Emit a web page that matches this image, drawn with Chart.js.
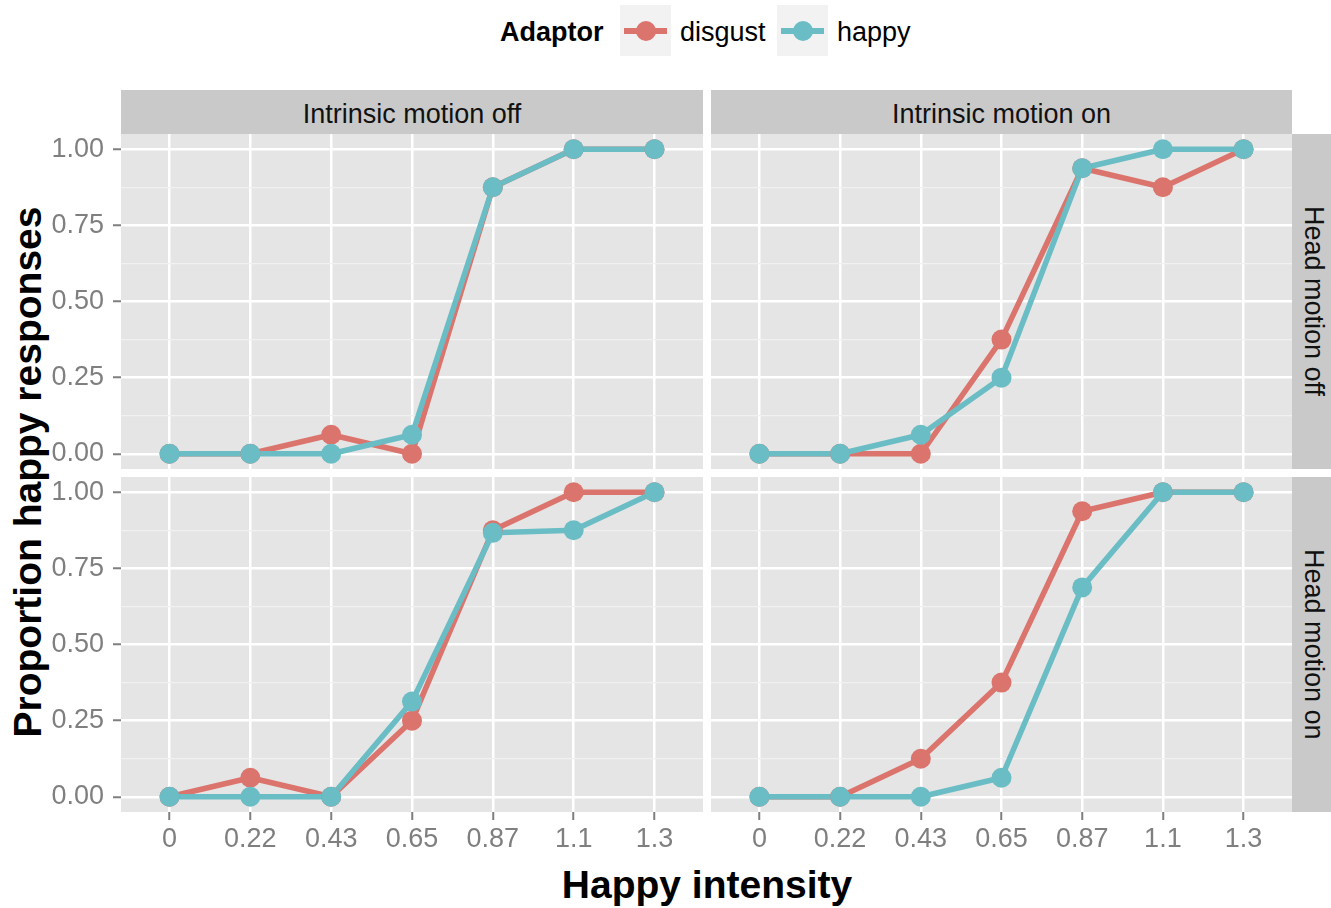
<!DOCTYPE html>
<html lang="en">
<head>
<meta charset="UTF-8">
<title>Proportion happy responses</title>
<script src="https://cdn.jsdelivr.net/npm/chart.js@4.4.1/dist/chart.umd.min.js"></script>
<style>
  html, body { margin: 0; padding: 0; background: #fff; }
  #wrap { position: relative; width: 1331px; height: 908px; overflow: hidden; font-family: 'Liberation Sans', Arial, sans-serif; }
  #wrap canvas { position: absolute; }
  .strip { position: absolute; background: #C9C9C9; color: #111; font-size: 27px; display: flex; align-items: center; justify-content: center; }
  .htext { padding-top: 4px; }
  .vtext { writing-mode: vertical-rl; white-space: nowrap; padding-left: 4px; }
  .title { position: absolute; font-weight: bold; font-size: 39px; color: #000; white-space: nowrap; transform: translate(-50%, -50%); }
  .key { position: absolute; top: 5px; width: 51px; height: 51px; background: #F2F2F2; }
  .key .ln { position: absolute; left: 4px; top: 23px; width: 43px; height: 5.5px; }
  .key .pt { position: absolute; left: 15.5px; top: 15.5px; width: 20px; height: 20px; border-radius: 50%; }
  .lg { position: absolute; font-size: 27px; line-height: 32px; top: 16px; color: #000; }
</style>
</head>
<body>
<div id="wrap">
  <div class="title" style="left:707px; top:885px;">Happy intensity</div>
  <div class="title" style="left:28px; top:472px; transform: translate(-50%, -50%) rotate(-90deg);">Proportion happy responses</div>

  <div class="lg" style="left:500px; font-weight:bold;">Adaptor</div>
  <div class="key" style="left:620px;"><div class="ln" style="background:#DB746C"></div><div class="pt" style="background:#DB746C"></div></div>
  <div class="lg" style="left:680px;">disgust</div>
  <div class="key" style="left:777px;"><div class="ln" style="background:#6ABDC4"></div><div class="pt" style="background:#6ABDC4"></div></div>
  <div class="lg" style="left:837px;">happy</div>

  <div class="strip" style="left:121px; top:90px; width:582px; height:44px;"><span class="htext">Intrinsic motion off</span></div>
  <div class="strip" style="left:711px; top:90px; width:581px; height:44px;"><span class="htext">Intrinsic motion on</span></div>
  <div class="strip" style="left:1292px; top:134px; width:39px; height:335px;"><span class="vtext">Head motion off</span></div>
  <div class="strip" style="left:1292px; top:477px; width:39px; height:335px;"><span class="vtext">Head motion on</span></div>

  <canvas id="offOff" width="703" height="335" style="left:0; top:134px;"></canvas>
  <canvas id="onOff" width="581" height="335" style="left:711px; top:134px;"></canvas>
  <canvas id="offOn" width="703" height="401" style="left:0; top:477px;"></canvas>
  <canvas id="onOn" width="581" height="401" style="left:711px; top:477px;"></canvas>
</div>

<script>
  // x categories (happy intensity) and y ticks
  const xLabels = ['0', '0.22', '0.43', '0.65', '0.87', '1.1', '1.3'];
  const yMajor = [0, 0.25, 0.5, 0.75, 1];
  const yMinor = [0.125, 0.375, 0.625, 0.875];

  // panel: intrinsic motion off / head motion off
  const offOffDisgust = [0, 0, 0.0625, 0, 0.875, 1, 1];
  const offOffHappy = [0, 0, 0, 0.0625, 0.875, 1, 1];
  // intrinsic on / head off
  const onOffDisgust = [0, 0, 0, 0.375, 0.9375, 0.875, 1];
  const onOffHappy = [0, 0, 0.0625, 0.25, 0.9375, 1, 1];
  // intrinsic off / head on
  const offOnDisgust = [0, 0.0625, 0, 0.25, 0.875, 1, 1];
  const offOnHappy = [0, 0, 0, 0.3125, 0.8667, 0.875, 1];
  // intrinsic on / head on
  const onOnDisgust = [0, 0, 0.125, 0.375, 0.9375, 1, 1];
  const onOnHappy = [0, 0, 0, 0.0625, 0.6875, 1, 1];

  const RED = '#DB746C';
  const TEAL = '#6ABDC4';

  Chart.defaults.font.family = "'Liberation Sans', Arial, sans-serif";

  const panelBg = {
    id: 'panelBg',
    beforeDraw(chart) {
      const { ctx, chartArea: a } = chart;
      ctx.save();
      ctx.fillStyle = '#E5E5E5';
      ctx.fillRect(a.left, a.top, a.right - a.left, a.bottom - a.top);
      ctx.restore();
    }
  };

  function toPoints(values) {
    return values.map((v, i) => ({ x: i, y: v }));
  }

  function lineSet(values, color) {
    return { data: toPoints(values), showLine: true, borderColor: color, borderWidth: 5.5, pointRadius: 0,
             pointHoverRadius: 0, borderJoinStyle: 'round', tension: 0, fill: false };
  }

  function pointSet(values, color) {
    return { data: toPoints(values), showLine: false, pointRadius: 10, pointHoverRadius: 10,
             pointBackgroundColor: color, pointBorderWidth: 0, borderColor: color };
  }

  const isMajor = v => yMajor.some(m => Math.abs(m - v) < 1e-9);

  function makePanel(id, disgust, happy, showX, showY) {
    new Chart(document.getElementById(id).getContext('2d'), {
      type: 'scatter',
      data: {
        // first dataset is drawn on top
        datasets: [pointSet(happy, TEAL), pointSet(disgust, RED), lineSet(happy, TEAL), lineSet(disgust, RED)]
      },
      plugins: [panelBg],
      options: {
        responsive: false,
        animation: false,
        events: [],
        layout: { padding: 0, autoPadding: false },
        plugins: { legend: { display: false }, tooltip: { enabled: false } },
        scales: {
          x: {
            type: 'linear', min: -0.6, max: 6.6,
            afterBuildTicks: s => { s.ticks = xLabels.map((_, i) => ({ value: i })); },
            afterFit: s => { s.height = showX ? 66 : 0; s.paddingLeft = 0; s.paddingRight = 0; },
            border: { display: false },
            grid: { color: '#FFFFFF', lineWidth: 2.5, drawTicks: showX, tickLength: 8, tickWidth: 2, tickColor: '#7F7F7F' },
            ticks: { display: showX, padding: 3, color: '#7F7F7F', font: { size: 27 }, maxRotation: 0,
                     autoSkip: false, callback: v => xLabels[v] }
          },
          y: {
            type: 'linear', min: -0.05, max: 1.05,
            afterBuildTicks: s => { s.ticks = yMajor.concat(yMinor).sort((a, b) => a - b).map(v => ({ value: v })); },
            afterFit: s => { s.width = showY ? 121 : 0; s.paddingTop = 0; s.paddingBottom = 0; },
            border: { display: false },
            grid: {
              color: c => isMajor(c.tick.value) ? '#FFFFFF' : '#F1F1F1',
              lineWidth: c => isMajor(c.tick.value) ? 2.5 : 1.2,
              drawTicks: showY, tickLength: 8, tickWidth: 2,
              tickColor: c => isMajor(c.tick.value) ? '#7F7F7F' : 'rgba(0,0,0,0)'
            },
            ticks: { display: showY, padding: 9, color: '#7F7F7F', font: { size: 27 }, autoSkip: false,
                     callback: v => isMajor(v) ? v.toFixed(2) : '' }
          }
        }
      }
    });
  }

  makePanel('offOff', offOffDisgust, offOffHappy, false, true);
  makePanel('onOff', onOffDisgust, onOffHappy, false, false);
  makePanel('offOn', offOnDisgust, offOnHappy, true, true);
  makePanel('onOn', onOnDisgust, onOnHappy, true, false);
</script>
</body>
</html>
